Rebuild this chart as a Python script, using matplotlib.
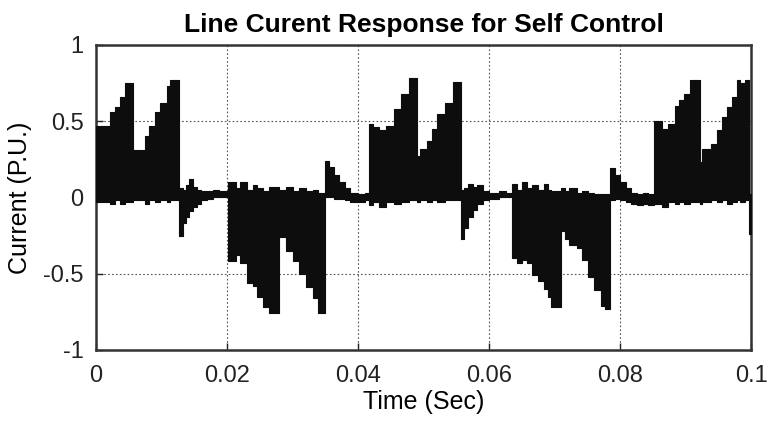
import numpy as np
import matplotlib
matplotlib.use("Agg")
import matplotlib.pyplot as plt

plt.rcParams['font.family'] = ['Liberation Sans', 'DejaVu Sans']

# envelope of the chopped line current (time in ms)
t_ms = [0.0, 2.1, 2.9, 3.7, 4.4, 5.7, 7.5, 8.0, 9.0, 9.8, 10.8, 11.3,
        12.7, 13.2, 13.7, 14.2, 14.8, 15.4, 16.0, 16.9, 17.8, 18.8,
        20.1, 21.3, 22.0, 23.1, 23.9, 24.6, 25.4, 26.4,
        27.9, 29.0, 30.0, 31.0, 32.0, 33.1, 33.9,
        34.9, 35.5, 36.3, 37.1, 38.0, 38.8, 40.0, 41.0,
        41.7, 42.2, 43.2, 44.2, 45.5, 46.5, 47.8,
        48.9, 49.5, 50.5, 51.3, 52.0, 53.3, 54.5,
        55.7, 56.2, 56.8, 57.5, 58.2, 59.0, 60.0, 61.5, 62.5,
        63.5, 64.2, 65.0, 65.7, 66.5, 67.5, 68.3, 69.0, 69.5,
        71.0, 71.6, 72.2, 73.4, 74.2, 75.0, 76.0, 77.0, 77.7,
        78.4, 79.2, 80.0, 80.8, 81.6, 82.5, 83.5, 84.3,
        85.1, 86.3, 87.3, 88.3, 89.0, 89.8, 90.6,
        92.2, 92.5, 93.8, 94.8, 95.5, 96.3, 97.1, 97.8, 98.3, 99.1,
        99.7, 100.0]
upper = [0.47, 0.56, 0.59, 0.66, 0.75, 0.31, 0.40, 0.47, 0.56, 0.62, 0.73, 0.77,
         0.06, 0.05, 0.08, 0.12, 0.07, 0.05, 0.04, 0.04, 0.05, 0.04,
         0.10, 0.06, 0.10, 0.05, 0.08, 0.06, 0.04, 0.07,
         0.05, 0.07, 0.04, 0.06, 0.04, 0.05, 0.03,
         0.24, 0.20, 0.15, 0.10, 0.06, 0.03, 0.02, 0.03,
         0.48, 0.46, 0.44, 0.47, 0.58, 0.68, 0.78,
         0.27, 0.32, 0.37, 0.45, 0.55, 0.62, 0.76,
         0.05, 0.06, 0.09, 0.07, 0.08, 0.04, 0.03, 0.04, 0.03,
         0.09, 0.05, 0.10, 0.06, 0.08, 0.05, 0.09, 0.05, 0.04,
         0.06, 0.04, 0.06, 0.03, 0.04, 0.03, 0.02, 0.02, 0.02,
         0.19, 0.15, 0.10, 0.06, 0.03, 0.02, 0.03, 0.02,
         0.50, 0.45, 0.48, 0.60, 0.64, 0.68, 0.77,
         0.23, 0.32, 0.35, 0.44, 0.53, 0.59, 0.66, 0.77, 0.75, 0.77,
         0.02, 0.02]
lower = [-0.03, -0.04, -0.02, -0.04, -0.03, -0.02, -0.04, -0.02, -0.03, -0.02, -0.03, -0.02,
         -0.25, -0.17, -0.13, -0.09, -0.06, -0.04, -0.02, -0.01, 0.0, 0.0,
         -0.42, -0.38, -0.43, -0.56, -0.58, -0.65, -0.72, -0.76,
         -0.26, -0.35, -0.42, -0.50, -0.59, -0.66, -0.76,
         0.0, 0.0, -0.01, -0.01, -0.02, -0.03, -0.03, -0.02,
         -0.05, -0.03, -0.06, -0.03, -0.04, -0.03, -0.02,
         -0.03, -0.02, -0.03, -0.02, -0.03, -0.02, -0.02,
         -0.27, -0.20, -0.13, -0.08, -0.04, -0.02, -0.01, 0.0, 0.0,
         -0.40, -0.43, -0.41, -0.43, -0.51, -0.55, -0.60, -0.65, -0.72,
         -0.22, -0.27, -0.31, -0.33, -0.41, -0.52, -0.61, -0.71, -0.73,
         -0.02, -0.01, -0.02, -0.03, -0.04, -0.05, -0.04, -0.05,
         -0.04, -0.06, -0.03, -0.04, -0.03, -0.04, -0.03,
         -0.04, -0.03, -0.02, -0.03, -0.02, -0.04, -0.03, -0.02, -0.03, -0.02,
         -0.24, -0.24]

x_ticks = [0, 0.02, 0.04, 0.06, 0.08, 0.1]
x_labels = ['0', '0.02', '0.04', '0.06', '0.08', '0.1']
y_ticks = [-1, -0.5, 0, 0.5, 1]
y_labels = ['-1', '-0.5', '0', '0.5', '1']

t = np.array(t_ms) / 1000.0

fig = plt.figure(figsize=(7.69, 4.32), dpi=100)
ax = fig.add_axes([0.125, 0.19, 0.852, 0.706])

ax.fill_between(t, lower, upper, step='post', color='#0d0d0d', linewidth=0.8,
                edgecolor='#0d0d0d', zorder=3)

ax.set_xlim(0, 0.1)
ax.set_ylim(-1, 1)
ax.set_xticks(x_ticks)
ax.set_xticklabels(x_labels)
ax.set_yticks(y_ticks)
ax.set_yticklabels(y_labels)
ax.grid(True, linestyle=(0, (1.5, 2)), color='#555555', linewidth=0.8, zorder=1)
ax.set_axisbelow(True)
ax.tick_params(direction='in', length=5, width=1, labelsize=17,
               top=False, right=False, colors='#222222')
ax.tick_params(axis='x', pad=11)
ax.tick_params(axis='y', pad=9)
for s in ax.spines.values():
    s.set_linewidth(1.8)
    s.set_color('#333333')

ax.set_title('Line Curent Response for Self Control', fontsize=19,
             fontweight='bold', pad=9)
ax.set_xlabel('Time (Sec)', fontsize=18, labelpad=2)
ax.set_ylabel('Current (P.U.)', fontsize=18, labelpad=8)

fig.savefig('out.png', dpi=100)
